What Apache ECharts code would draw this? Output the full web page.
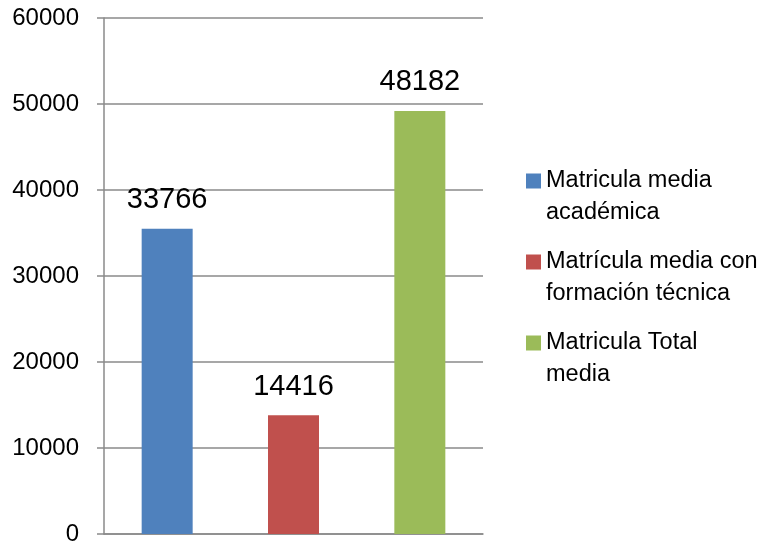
<!DOCTYPE html>
<html>
<head>
<meta charset="utf-8">
<script src="https://cdn.jsdelivr.net/npm/echarts@6/dist/echarts.min.js"></script>
<style>
html,body{margin:0;padding:0;background:#fff;}
#chart{width:773px;height:546px;}
</style>
</head>
<body>
<div id="chart"></div>
<script>
// Data
var categories = ['Matricula media\nacadémica', 'Matrícula media con\nformación técnica', 'Matricula Total\nmedia'];
var seriesNames = ['Matricula media académica', 'Matrícula media con formación técnica', 'Matricula Total media'];
var barValues = [35500, 13800, 49200];      // bar heights as drawn
var labelValues = ['33766', '14416', '48182']; // data labels as printed
var colors = ['#4f81bd', '#c0504d', '#9bbb59'];
var yTicks = { min: 0, max: 60000, interval: 10000 };

var chart = echarts.init(document.getElementById('chart'), null, { renderer: 'canvas' });

var series = seriesNames.map(function (name, i) {
  var data = categories.map(function (c, j) { return j === i ? barValues[i] : '-'; });
  return {
    name: name,
    type: 'bar',
    data: data,
    barWidth: 51,
    barGap: '-100%',
    itemStyle: { color: colors[i] },
    label: {
      show: true,
      position: 'top',
      distance: 14,
      formatter: function () { return labelValues[i]; },
      fontFamily: 'Liberation Sans',
      fontSize: 29,
      color: '#000'
    },
    emphasis: { disabled: true },
    animation: false
  };
});

var legendLabels = {};
seriesNames.forEach(function (n, i) { legendLabels[n] = '\n' + categories[i]; });

chart.setOption({
  animation: false,
  backgroundColor: '#fff',
  grid: { left: 104, right: 290, top: 18, bottom: 11, containLabel: false },
  xAxis: {
    type: 'category',
    data: categories,
    axisLine: { show: true, lineStyle: { color: '#8a8a8a', width: 1.5 } },
    axisTick: { show: false },
    axisLabel: { show: false },
    splitLine: { show: false }
  },
  yAxis: {
    type: 'value',
    min: yTicks.min,
    max: yTicks.max,
    interval: yTicks.interval,
    axisLine: { show: true, lineStyle: { color: '#8a8a8a', width: 1.5 } },
    axisTick: { show: true, length: 7, lineStyle: { color: '#8a8a8a', width: 1.5 } },
    axisLabel: {
      margin: 25, fontFamily: 'Liberation Sans', fontSize: 24, color: '#000',
      formatter: function (v) { return String(v); }
    },
    splitLine: { show: true, lineStyle: { color: '#8a8a8a', width: 1.5 } }
  },
  legend: {
    orient: 'vertical',
    left: 526,
    top: 133,
    padding: 0,
    itemWidth: 15,
    itemHeight: 15,
    itemGap: -15,
    icon: 'rect',
    selectedMode: false,
    data: seriesNames,
    formatter: function (name) { return legendLabels[name]; },
    textStyle: { fontFamily: 'Liberation Sans', fontSize: 23.5, lineHeight: 32, color: '#000' }
  },
  series: series
});
</script>
</body>
</html>
